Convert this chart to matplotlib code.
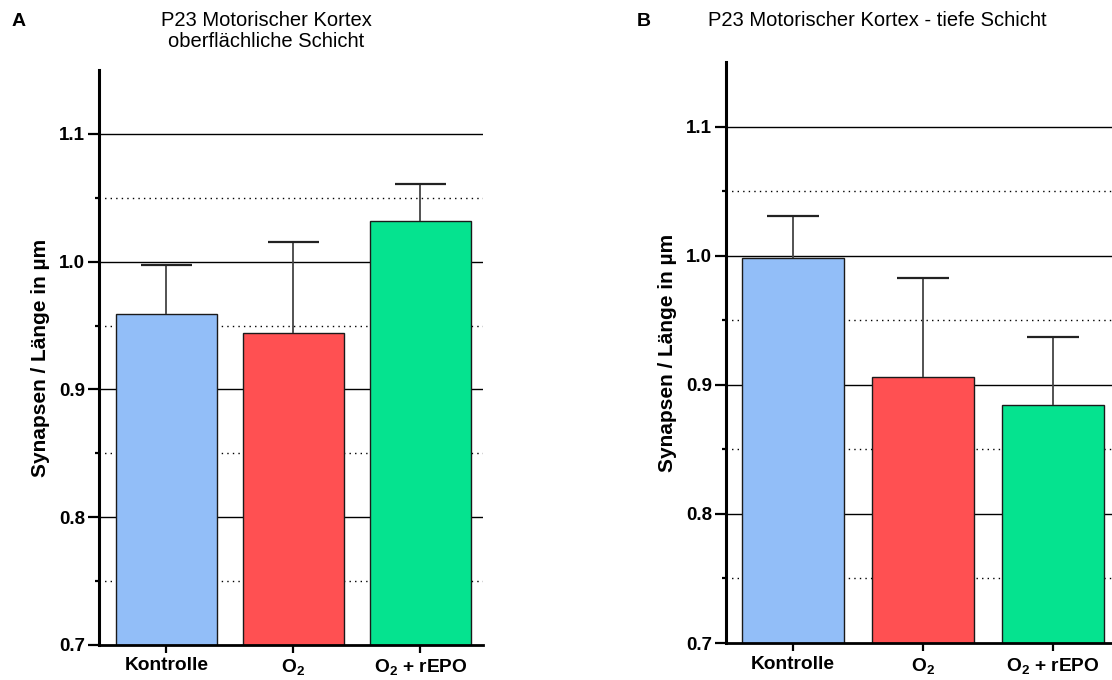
import matplotlib
matplotlib.use('Agg')
import matplotlib.pyplot as plt
import numpy as np

plt.rcParams['font.family'] = ['Liberation Sans', 'DejaVu Sans']
plt.rcParams['mathtext.fontset'] = 'custom'
plt.rcParams['mathtext.rm'] = 'Liberation Sans'
plt.rcParams['mathtext.bf'] = 'Liberation Sans:bold'
plt.rcParams['mathtext.default'] = 'regular'

# Gruppen und Messwerte (Mittelwert + Fehler nach oben)
groups = ['Kontrolle', 'O$_2$', 'O$_2$ + rEPO']
colors = ['#92BEF8', '#FF5052', '#05E38F']

mean_a = [0.959, 0.944, 1.032]
err_a = [0.038, 0.071, 0.029]

mean_b = [0.998, 0.906, 0.884]
err_b = [0.033, 0.077, 0.053]

ylabel = 'Synapsen / Länge in µm'
major = [0.7, 0.8, 0.9, 1.0, 1.1]
minor = [0.75, 0.85, 0.95, 1.05]

fig = plt.figure(figsize=(11.12, 6.8), dpi=100)
ax_a = fig.add_axes([0.0890, 0.0515, 0.3453, 0.8456])
ax_b = fig.add_axes([0.6529, 0.0544, 0.3471, 0.8544])


def draw_panel(ax, means, errs, xlim, width):
    x = np.arange(len(groups))
    means = np.asarray(means)
    tops = means + np.asarray(errs)
    ax.set_xlim(*xlim)
    ax.set_ylim(0.7, 1.15)

    # Gitterlinien hinter den Balken
    for v in major[1:]:
        ax.axhline(v, color='black', lw=1.0, zorder=1)
    for v in minor:
        ax.axhline(v, color='black', lw=1.0, ls=(0, (1, 3)), zorder=1)

    ax.bar(x, means, width=width, color=colors, edgecolor='#1a1a1a',
           linewidth=1.0, zorder=2)

    # nur obere Fehlerbalken mit Kappe
    ax.vlines(x, means, tops, color='#444444', lw=1.3, zorder=3)
    ax.hlines(tops, x - width / 4, x + width / 4, color='#222222', lw=1.6,
              zorder=3)

    ax.spines['top'].set_visible(False)
    ax.spines['right'].set_visible(False)
    ax.spines['left'].set_linewidth(2.2)
    ax.spines['bottom'].set_linewidth(2.0)

    ax.set_yticks(major)
    ax.set_yticklabels(['0.7', '0.8', '0.9', '1.0', '1.1'])
    ax.set_yticks(minor, minor=True)
    ax.tick_params(axis='y', which='major', length=8, width=1.6, pad=2,
                   labelsize=13.5)
    ax.tick_params(axis='y', which='minor', length=3, width=1.6)
    for lab in ax.get_yticklabels():
        lab.set_fontweight('bold')

    ax.set_xticks(x)
    ax.set_xticklabels(groups, fontsize=13.8, fontweight='bold')
    ax.tick_params(axis='x', length=6, width=1.6, pad=3)

    ax.set_ylabel(ylabel, fontsize=15, fontweight='bold', labelpad=6.5)


draw_panel(ax_a, mean_a, err_a, (-0.531, 2.492), 0.795)
draw_panel(ax_b, mean_b, err_b, (-0.515, 2.454), 0.79)

# Panel-Buchstaben und Titel
fig.text(19 / 1112, 1 - 21 / 680, 'A', fontsize=14, fontweight='bold',
         ha='center', va='center')
fig.text(644 / 1112, 1 - 21 / 680, 'B', fontsize=14, fontweight='bold',
         ha='center', va='center')
fig.text(266 / 1112, 1 - 31 / 680,
         'P23 Motorischer Kortex\noberflächliche Schicht',
         fontsize=14.5, ha='center', va='center', linespacing=1.1)
fig.text(877 / 1112, 1 - 21 / 680, 'P23 Motorischer Kortex - tiefe Schicht',
         fontsize=14.5, ha='center', va='center')

fig.savefig('out.png', dpi=100, facecolor='white')
